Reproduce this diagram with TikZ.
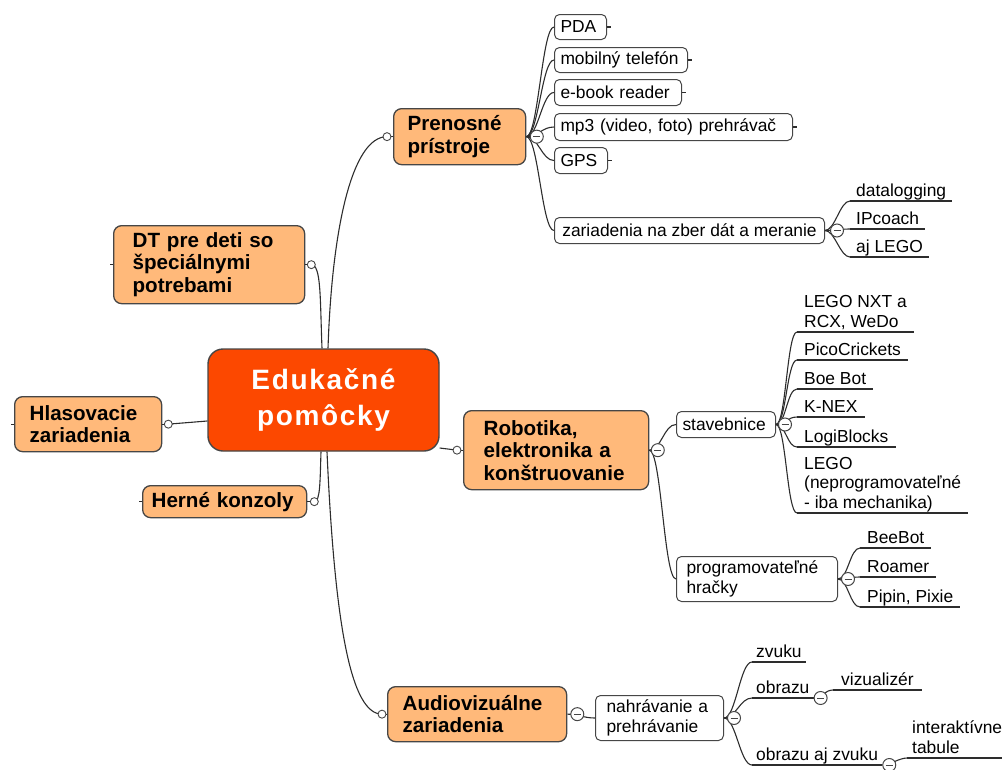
\documentclass[tikz,border=0pt]{standalone}
\usepackage{fontspec}
\setmainfont{Liberation Sans}
\newfontfamily\centrefont[LetterSpace=6]{Liberation Sans}
\definecolor{edufill}{RGB}{252,72,0}
\definecolor{topicfill}{RGB}{255,185,122}
\definecolor{boxedge}{RGB}{70,70,70}
\definecolor{linegray}{RGB}{45,45,45}

\begin{document}
\begin{tikzpicture}[x=1pt, y=-1pt,
	conn/.style={draw=linegray, line width=1.1pt},
	central/.style={draw=boxedge, line width=1.4pt, fill=edufill, rounded corners=15pt, text=white, font=\centrefont\bfseries\fontsize{28}{36.7}\selectfont, align=center, inner sep=0pt},
	topic/.style={draw=boxedge, line width=1.3pt, fill=topicfill, rounded corners=8pt, font=\bfseries\fontsize{20.6}{22.5}\selectfont, align=left, anchor=north west, inner ysep=0pt},
	subbox/.style={draw=boxedge, line width=1pt, fill=white, rounded corners=5pt, font=\fontsize{17.4}{19.5}\selectfont, align=left, anchor=north west, inner xsep=6pt, inner ysep=0pt},
	leaf/.style={font=\fontsize{17.4}{19.5}\selectfont, align=left, anchor=south west, inner xsep=7pt, inner ysep=1.5pt, text depth=3pt},
	knob/.style={circle, draw=boxedge, fill=white, line width=0.9pt, minimum size=8pt, inner sep=0pt},
	fold/.style={circle, draw=boxedge, fill=white, line width=1pt, minimum size=13pt, inner sep=0pt,
		path picture={\draw[line width=1pt] ([xshift=-3.5pt]path picture bounding box.center) -- ([xshift=3.5pt]path picture bounding box.center);}},
	branch/.style={to path={.. controls +(#1,0) and +(-#1,0) .. (\tikztotarget)}},
	branch/.default=12]
	\useasboundingbox (0,0) rectangle (1002,769);
	
	% Centre
	\node[central, minimum width=231pt, minimum height=102pt] (edu) at (323.5,400) {Edukačné\\pomôcky};
	
	% Main topics
	\node[topic, minimum height=78pt, inner xsep=19pt, text width=153pt] (dt) at (113,225) {DT pre deti so\\špeciálnymi\\potrebami};
	\node[topic, minimum height=55pt, inner xsep=15pt, text width=117pt] (hl) at (14,396) {Hlasovacie\\zariadenia};
	\node[topic, minimum height=32pt, inner xsep=9pt, text width=146pt] (hk) at (142,485) {Herné konzoly};
	\node[topic, minimum height=56pt, inner xsep=14pt, text width=104pt] (pr) at (393,108) {Prenosné\\prístroje};
	\node[topic, minimum height=79pt, inner xsep=20pt, text width=145pt] (rb) at (463,410) {Robotika,\\elektronika a\\konštruovanie};
	\node[topic, minimum height=55pt, inner xsep=15pt, text width=149pt] (av) at (387,686) {Audiovizuálne\\zariadenia};
	
	% Subtopics
	\node[subbox, minimum height=25pt, text width=40pt] (pda) at (554,14) {PDA};
	\node[subbox, minimum height=25pt, text width=121pt] (mob) at (554,47) {mobilný telefón};
	\node[subbox, minimum height=26pt, text width=115pt] (ebook) at (554,79) {e-book reader};
	\node[subbox, minimum height=27pt, text width=226pt] (mp3) at (554,113) {mp3 (video, foto) prehrávač};
	\node[subbox, minimum height=26pt, text width=41pt] (gps) at (554,147) {GPS};
	\node[subbox, minimum height=26pt, minimum width=270pt] (zber) at (554,217) {zariadenia na zber dát a meranie};
	\node[subbox, minimum height=26pt, text width=87pt] (stav) at (676,411) {stavebnice};
	\node[subbox, minimum height=45pt, inner xsep=10pt, text width=141pt] (prog) at (676,556) {programovateľné\\hračky};
	\node[subbox, minimum height=45pt, inner xsep=11pt, text width=106pt] (nahr) at (595,695) {nahrávanie a\\prehrávanie};
	
	% Leaves
	\node[leaf, inner xsep=6pt] (dlog) at (850,201) {datalogging};
	\node[leaf, inner xsep=6pt] (ipc) at (850,229) {IPcoach};
	\node[leaf, inner xsep=6pt] (ajl) at (850,257) {aj LEGO};
	\node[leaf] (nxt) at (797,332) {LEGO NXT a\\RCX, WeDo};
	\node[leaf] (pico) at (797,360) {PicoCrickets};
	\node[leaf] (boe) at (797,389) {Boe Bot};
	\node[leaf] (knex) at (797,417) {K-NEX};
	\node[leaf] (logi) at (797,447) {LogiBlocks};
	\node[leaf] (lego) at (797,513) {LEGO\\(neprogramovateľné\\- iba mechanika)};
	\node[leaf] (bee) at (860,548) {BeeBot};
	\node[leaf] (roam) at (860,577) {Roamer};
	\node[leaf] (pip) at (860,607) {Pipin, Pixie};
	\node[leaf, inner xsep=4pt] (zvuk) at (752,662) {zvuku};
	\node[leaf, inner xsep=4pt] (obr) at (752,698) {obrazu};
	\node[leaf, inner xsep=4pt] (oaz) at (752,765) {obrazu aj zvuku};
	\node[leaf, inner xsep=8pt] (viz) at (833,690) {vizualizér};
	\node[leaf, inner xsep=5pt] (itab) at (907,758) {interaktívne\\tabule};
	\foreach \n in {dlog,ipc,ajl,nxt,pico,boe,knex,logi,lego,bee,roam,pip,zvuk,obr,oaz,viz,itab}
	\draw[conn] (\n.south west) -- (\n.south east);
	
	% Knob points
	\coordinate (dtk) at ([xshift=6pt]dt.east);
	\coordinate (hlk) at ([xshift=6pt]hl.east);
	\coordinate (hkk) at ([xshift=7pt]hk.east);
	\coordinate (prk) at ([xshift=-6pt]pr.west);
	\coordinate (rbk) at ([xshift=-6pt]rb.west);
	\coordinate (avk) at ([xshift=-5pt]av.west);
	
	% Centre to main topics
	\draw[conn] ([xshift=4.5pt]edu.north) .. controls +(4,-120) and +(-35,0) .. (prk);
	\draw[conn] ([xshift=-1.5pt]edu.north) .. controls +(-2,-50) and +(10,0) .. (dtk);
	\draw[conn] ([xshift=-2.5pt]edu.south) .. controls +(-1,30) and +(6,0) .. (hkk);
	\draw[conn] ([xshift=3.5pt]edu.south) .. controls +(8,180) and +(-30,0) .. (avk);
	\draw[conn] ([yshift=-21pt]edu.west) -- (hlk);
	\draw[conn] ([yshift=-48pt]edu.east) -- (rbk);
	\draw[conn] (dtk) -- (dt.east) (hlk) -- (hl.east) (hkk) -- (hk.east)
	(prk) -- (pr.west) (rbk) -- (rb.west) (avk) -- (av.west);
	
	% Stubs
	\foreach \n in {dt,hl,hk}
	\draw[conn] (\n.west) -- +(-3,0);
	\foreach \n in {pda,mob,ebook,mp3,gps}
	\draw[conn] (\n.east) -- +(4,0);
	
	% Branches
	\foreach \n in {pda,mob,ebook,mp3,gps,zber}
	\draw[conn] (pr.east) to[branch] (\n.west);
	\foreach \n in {dlog,ipc,ajl}
	\draw[conn] (zber.east) to[branch=10] (\n.south west);
	\foreach \n in {stav,prog}
	\draw[conn] (rb.east) to[branch] (\n.west);
	\foreach \n in {nxt,pico,boe,knex,logi,lego}
	\draw[conn] (stav.east) to[branch=10] (\n.south west);
	\foreach \n in {bee,roam,pip}
	\draw[conn] (prog.east) to[branch=10] (\n.south west);
	\draw[conn] (av.east) to[branch] (nahr.west);
	\foreach \n in {zvuk,obr,oaz}
	\draw[conn] (nahr.east) to[branch] (\n.south west);
	\draw[conn] (obr.south east) to[branch=8] (viz.south west);
	\draw[conn] (oaz.south east) to[branch=8] (itab.south west);
	
	% Fold marks
	\node[fold] (prfold) at ([xshift=10.5pt]pr.east) {};
	\node[fold] (zberfold) at ([xshift=12pt]zber.east) {};
	\node[fold] (rbfold) at ([xshift=8.5pt]rb.east) {};
	\node[fold] (stavfold) at ([xshift=9pt]stav.east) {};
	\node[fold] (progfold) at ([xshift=10pt]prog.east) {};
	\node[fold] (avfold) at ([xshift=10pt]av.east) {};
	\node[fold] (nahrfold) at ([xshift=10pt]nahr.east) {};
	\node[fold] (obrfold) at ([xshift=7pt]obr.south east) {};
	\node[fold] (oazfold) at ([xshift=7pt]oaz.south east) {};
	
	% Knobs
	\foreach \k in {dtk,hlk,hkk,prk,rbk,avk}
	\node[knob] (\k-dot) at (\k) {};
\end{tikzpicture}
\end{document}
